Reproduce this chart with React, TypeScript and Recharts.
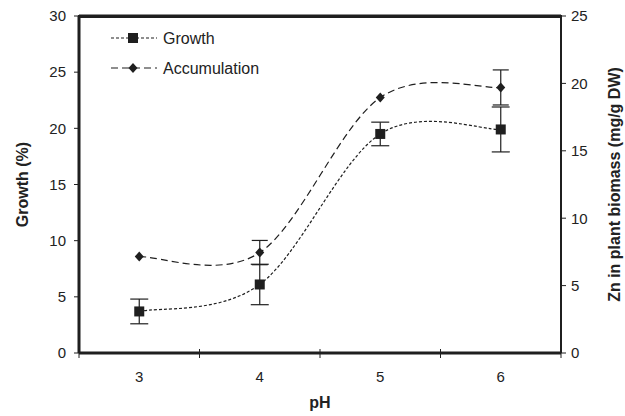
import React from "react";
import {
  ErrorBar,
  Legend,
  Line,
  LineChart,
  ReferenceLine,
  XAxis,
  YAxis,
} from "recharts";

const phValues = [3, 4, 5, 6];
const growth = [3.7, 6.1, 19.5, 19.9];
const growthErr = [1.1, 1.8, 1.05, 2.0];
const accumulation = [7.15, 7.45, 18.95, 19.7];
const accumulationErr = [0, 0.9, 0, 1.3];

const leftTicks = [0, 5, 10, 15, 20, 25, 30];
const rightTicks = [0, 5, 10, 15, 20, 25];
const xTicks = [2.5, 3, 3.5, 4, 4.5, 5, 5.5, 6, 6.5];

const data = phValues.map((ph, i) => ({
  ph,
  growth: growth[i],
  growthErr: growthErr[i],
  accumulation: accumulation[i],
  accumulationErr: accumulationErr[i],
}));

const INK = "#1f1f1f";
const FONT = "'Liberation Sans', Arial, sans-serif";

// Excel-style smoothed line (Catmull-Rom through the points)
const smoothCurve = (context: any) => {
  let pts: number[][] = [];
  return {
    areaStart() {},
    areaEnd() {},
    lineStart() {
      pts = [];
    },
    point(x: number, y: number) {
      pts.push([x, y]);
    },
    lineEnd() {
      if (!pts.length) return;
      context.moveTo(pts[0][0], pts[0][1]);
      for (let i = 0; i < pts.length - 1; i++) {
        const p0 = pts[i - 1] || pts[i];
        const p1 = pts[i];
        const p2 = pts[i + 1];
        const p3 = pts[i + 2] || p2;
        context.bezierCurveTo(
          p1[0] + (p2[0] - p0[0]) / 6,
          p1[1] + (p2[1] - p0[1]) / 6,
          p2[0] - (p3[0] - p1[0]) / 6,
          p2[1] - (p3[1] - p1[1]) / 6,
          p2[0],
          p2[1]
        );
      }
    },
  };
};

const SquareDot = (props: any) => {
  const { cx, cy, index } = props;
  return <rect key={`sq-${index}`} x={cx - 5} y={cy - 5} width={10} height={10} fill={INK} />;
};

const DiamondDot = (props: any) => {
  const { cx, cy, index } = props;
  return (
    <polygon
      key={`dm-${index}`}
      points={`${cx},${cy - 5} ${cx + 4.5},${cy} ${cx},${cy + 5} ${cx - 4.5},${cy}`}
      fill={INK}
    />
  );
};

const XTick = (props: any) => {
  const { x, y, payload } = props;
  const v = payload.value;
  if (Number.isInteger(v)) {
    return (
      <text x={x} y={y + 29} textAnchor="middle" fontSize={15} fill="#222" fontFamily={FONT}>
        {v}
      </text>
    );
  }
  return <line x1={x} x2={x} y1={y - 4} y2={y + 5} stroke={INK} strokeWidth={1} />;
};

const LegendBox = () => (
  <svg width={220} height={62}>
    <line x1={6} x2={52} y1={16} y2={16} stroke={INK} strokeWidth={1.2} strokeDasharray="3 2" />
    <rect x={23} y={11} width={10} height={10} fill={INK} />
    <text x={58} y={22} fontSize={16} fill="#222" fontFamily={FONT}>
      Growth
    </text>
    <line x1={6} x2={52} y1={46} y2={46} stroke={INK} strokeWidth={1.2} strokeDasharray="7 4" />
    <polygon points="28,41 32.5,46 28,51 23.5,46" fill={INK} />
    <text x={58} y={52} fontSize={16} fill="#222" fontFamily={FONT}>
      Accumulation
    </text>
  </svg>
);

export default function App() {
  return (
    <div style={{ position: "absolute", left: 0, top: 0, width: 625, height: 416, background: "#fff" }}>
      <LineChart
        width={625}
        height={416}
        data={data}
        margin={{ top: 16, right: 0, left: 10, bottom: 0 }}
        style={{ fontFamily: FONT }}
      >
        <XAxis
          dataKey="ph"
          type="number"
          domain={[2.5, 6.5]}
          ticks={xTicks}
          interval={0}
          height={63}
          tickSize={0}
          tickMargin={0}
          tickLine={false}
          tick={<XTick />}
          axisLine={{ stroke: INK, strokeWidth: 3 }}
          label={{
            value: "pH",
            position: "insideBottom",
            offset: 8,
            style: { fontSize: 16, fontWeight: "bold", fill: "#222" },
          }}
        />
        <YAxis
          yAxisId="left"
          domain={[0, 30]}
          ticks={leftTicks}
          interval={0}
          width={69}
          tickSize={5}
          tickMargin={8}
          tick={{ fontSize: 15, fill: "#222" }}
          tickLine={{ stroke: INK }}
          axisLine={{ stroke: INK, strokeWidth: 3 }}
          label={{
            value: "Growth (%)",
            angle: -90,
            position: "insideLeft",
            offset: 12,
            style: { textAnchor: "middle", fontSize: 16, fontWeight: "bold", fill: "#222" },
          }}
        />
        <YAxis
          yAxisId="right"
          orientation="right"
          domain={[0, 25]}
          ticks={rightTicks}
          interval={0}
          width={64}
          tickSize={5}
          tickMargin={5}
          tick={{ fontSize: 15, fill: "#222" }}
          tickLine={{ stroke: INK }}
          axisLine={{ stroke: INK, strokeWidth: 2 }}
          label={{
            value: "Zn in plant biomass (mg/g DW)",
            angle: -90,
            position: "insideRight",
            offset: 11,
            style: { textAnchor: "middle", fontSize: 16, fontWeight: "bold", fill: "#222" },
          }}
        />
        <ReferenceLine yAxisId="left" y={30} stroke={INK} strokeWidth={3} ifOverflow="visible" />
        <Legend
          layout="vertical"
          align="center"
          verticalAlign="middle"
          content={<LegendBox />}
          wrapperStyle={{ left: 105, top: 22, width: 220, height: 62 }}
        />
        <Line
          yAxisId="left"
          type={smoothCurve as any}
          dataKey="growth"
          name="Growth"
          stroke={INK}
          strokeWidth={1.2}
          strokeDasharray="3 2"
          dot={SquareDot}
          activeDot={false}
          isAnimationActive={false}
        >
          <ErrorBar dataKey="growthErr" width={9} stroke={INK} strokeWidth={1.2} direction="y" />
        </Line>
        <Line
          yAxisId="right"
          type={smoothCurve as any}
          dataKey="accumulation"
          name="Accumulation"
          stroke={INK}
          strokeWidth={1.2}
          strokeDasharray="7 4"
          dot={DiamondDot}
          activeDot={false}
          isAnimationActive={false}
        >
          <ErrorBar dataKey="accumulationErr" width={8} stroke={INK} strokeWidth={1.2} direction="y" />
        </Line>
      </LineChart>
      {/* top frame of the plot box */}
      <div
        style={{
          position: "absolute",
          left: 78,
          top: 14.5,
          width: 484,
          height: 3,
          background: INK,
          pointerEvents: "none",
        }}
      />
    </div>
  );
}
